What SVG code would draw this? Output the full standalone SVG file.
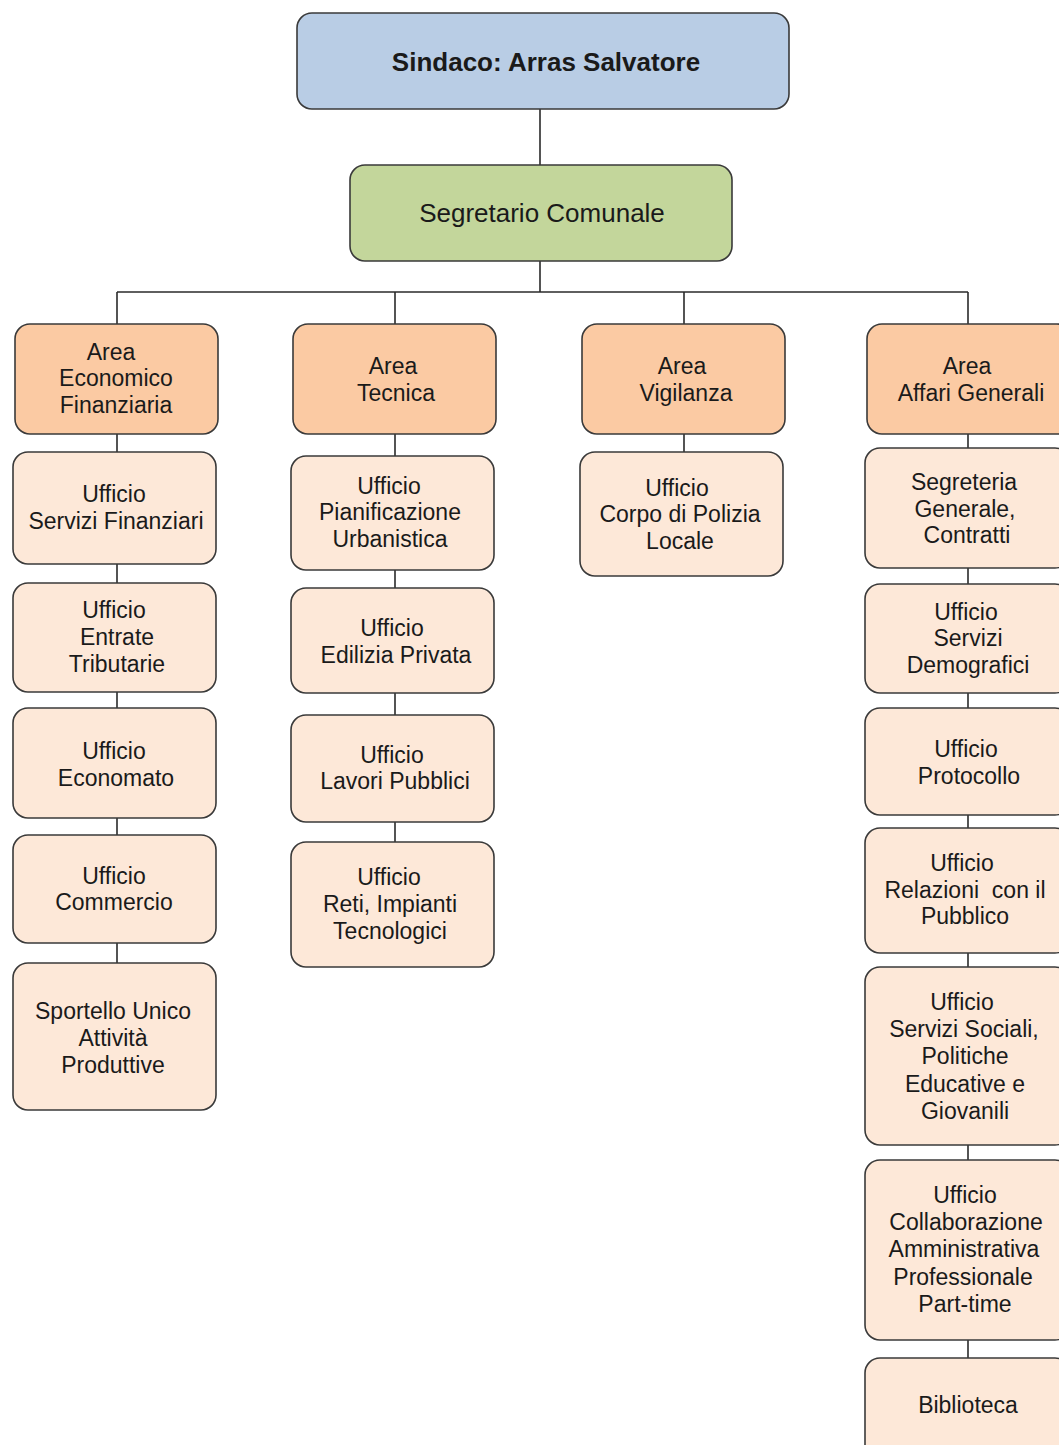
<svg xmlns="http://www.w3.org/2000/svg" width="1059" height="1445" viewBox="0 0 1059 1445">
<style>
  .box{stroke:#3a3a3a;stroke-width:1.6}
  .top{fill:#b9cde5}
  .seg{fill:#c3d69b}
  .area{fill:#fbcaa3}
  .uff{fill:#fde8d8}
  text{font-family:"Liberation Sans",Arial,sans-serif;font-size:23px;fill:#1a1a1a;text-anchor:middle}
  .b{font-weight:bold;font-size:26px}
  .s{font-size:26px}
  #connectors line{stroke:#2a2a2a;stroke-width:1.6}
</style>
<rect width="1059" height="1445" fill="#ffffff"/>
<g id="connectors">
  <line x1="540" y1="109" x2="540" y2="165"/>
  <line x1="540" y1="261" x2="540" y2="292"/>
  <line x1="117" y1="292" x2="968" y2="292"/>
  <line x1="117" y1="292" x2="117" y2="324"/>
  <line x1="395" y1="292" x2="395" y2="324"/>
  <line x1="684" y1="292" x2="684" y2="324"/>
  <line x1="968" y1="292" x2="968" y2="324"/>
  <line x1="117" y1="434" x2="117" y2="452"/>
  <line x1="117" y1="564" x2="117" y2="583"/>
  <line x1="117" y1="692" x2="117" y2="708"/>
  <line x1="117" y1="818" x2="117" y2="835"/>
  <line x1="117" y1="943" x2="117" y2="963"/>
  <line x1="395" y1="434" x2="395" y2="456"/>
  <line x1="395" y1="570" x2="395" y2="588"/>
  <line x1="395" y1="693" x2="395" y2="715"/>
  <line x1="395" y1="822" x2="395" y2="842"/>
  <line x1="684" y1="434" x2="684" y2="452"/>
  <line x1="968" y1="434" x2="968" y2="448"/>
  <line x1="968" y1="568" x2="968" y2="584"/>
  <line x1="968" y1="693" x2="968" y2="708"/>
  <line x1="968" y1="815" x2="968" y2="828"/>
  <line x1="968" y1="953" x2="968" y2="967"/>
  <line x1="968" y1="1145" x2="968" y2="1160"/>
  <line x1="968" y1="1340" x2="968" y2="1358"/>
</g>
<g id="sindaco"><rect class="box top" x="297" y="13" width="492" height="96" rx="15"/><text class="b" x="546" y="71">Sindaco: Arras Salvatore</text></g>
<g id="segretario"><rect class="box seg" x="350" y="165" width="382" height="96" rx="15"/><text class="s" x="542" y="222">Segretario Comunale</text></g>

<g id="area-economico"><rect class="box area" x="15" y="324" width="203" height="110" rx="15"/><text x="111" y="360">Area</text><text x="116" y="386">Economico</text><text x="116" y="413">Finanziaria</text></g>
<g id="area-tecnica"><rect class="box area" x="293" y="324" width="203" height="110" rx="15"/><text x="393" y="374">Area</text><text x="396" y="401">Tecnica</text></g>
<g id="area-vigilanza"><rect class="box area" x="582" y="324" width="203" height="110" rx="15"/><text x="682" y="374">Area</text><text x="686" y="401">Vigilanza</text></g>
<g id="area-affari"><rect class="box area" x="867" y="324" width="205" height="110" rx="15"/><text x="967" y="374">Area</text><text x="971" y="401">Affari Generali</text></g>

<g id="u-servizi-finanziari"><rect class="box uff" x="13" y="452" width="203" height="112" rx="15"/><text x="114" y="502">Ufficio</text><text x="116" y="529">Servizi Finanziari</text></g>
<g id="u-entrate"><rect class="box uff" x="13" y="583" width="203" height="109" rx="15"/><text x="114" y="618">Ufficio</text><text x="117" y="645">Entrate</text><text x="117" y="672">Tributarie</text></g>
<g id="u-economato"><rect class="box uff" x="13" y="708" width="203" height="110" rx="15"/><text x="114" y="759">Ufficio</text><text x="116" y="786">Economato</text></g>
<g id="u-commercio"><rect class="box uff" x="13" y="835" width="203" height="108" rx="15"/><text x="114" y="884">Ufficio</text><text x="114" y="910">Commercio</text></g>
<g id="u-sportello"><rect class="box uff" x="13" y="963" width="203" height="147" rx="15"/><text x="113" y="1019">Sportello Unico</text><text x="113" y="1046">Attività</text><text x="113" y="1073">Produttive</text></g>

<g id="u-pianificazione"><rect class="box uff" x="291" y="456" width="203" height="114" rx="15"/><text x="389" y="494">Ufficio</text><text x="390" y="520">Pianificazione</text><text x="390" y="547">Urbanistica</text></g>
<g id="u-edilizia"><rect class="box uff" x="291" y="588" width="203" height="105" rx="15"/><text x="392" y="636">Ufficio</text><text x="396" y="663">Edilizia Privata</text></g>
<g id="u-lavori"><rect class="box uff" x="291" y="715" width="203" height="107" rx="15"/><text x="392" y="763">Ufficio</text><text x="395" y="789">Lavori Pubblici</text></g>
<g id="u-reti"><rect class="box uff" x="291" y="842" width="203" height="125" rx="15"/><text x="389" y="885">Ufficio</text><text x="390" y="912">Reti, Impianti</text><text x="390" y="939">Tecnologici</text></g>

<g id="u-polizia"><rect class="box uff" x="580" y="452" width="203" height="124" rx="15"/><text x="677" y="496">Ufficio</text><text x="680" y="522">Corpo di Polizia</text><text x="680" y="549">Locale</text></g>

<g id="u-segreteria"><rect class="box uff" x="865" y="448" width="205" height="120" rx="15"/><text x="964" y="490">Segreteria</text><text x="965" y="517">Generale,</text><text x="967" y="543">Contratti</text></g>
<g id="u-demografici"><rect class="box uff" x="865" y="584" width="205" height="109" rx="15"/><text x="966" y="620">Ufficio</text><text x="968" y="646">Servizi</text><text x="968" y="673">Demografici</text></g>
<g id="u-protocollo"><rect class="box uff" x="865" y="708" width="205" height="107" rx="15"/><text x="966" y="757">Ufficio</text><text x="969" y="784">Protocollo</text></g>
<g id="u-relazioni"><rect class="box uff" x="865" y="828" width="205" height="125" rx="15"/><text x="962" y="871">Ufficio</text><text x="965" y="898" xml:space="preserve">Relazioni  con il</text><text x="965" y="924">Pubblico</text></g>
<g id="u-sociali"><rect class="box uff" x="865" y="967" width="205" height="178" rx="15"/><text x="962" y="1010">Ufficio</text><text x="964" y="1037">Servizi Sociali,</text><text x="965" y="1064">Politiche</text><text x="965" y="1092">Educative e</text><text x="965" y="1119">Giovanili</text></g>
<g id="u-collaborazione"><rect class="box uff" x="865" y="1160" width="205" height="180" rx="15"/><text x="965" y="1203">Ufficio</text><text x="966" y="1230">Collaborazione</text><text x="964" y="1257">Amministrativa</text><text x="963" y="1285">Professionale</text><text x="965" y="1312">Part-time</text></g>
<g id="u-biblioteca"><rect class="box uff" x="865" y="1358" width="205" height="110" rx="15"/><text x="968" y="1413">Biblioteca</text></g>
</svg>
